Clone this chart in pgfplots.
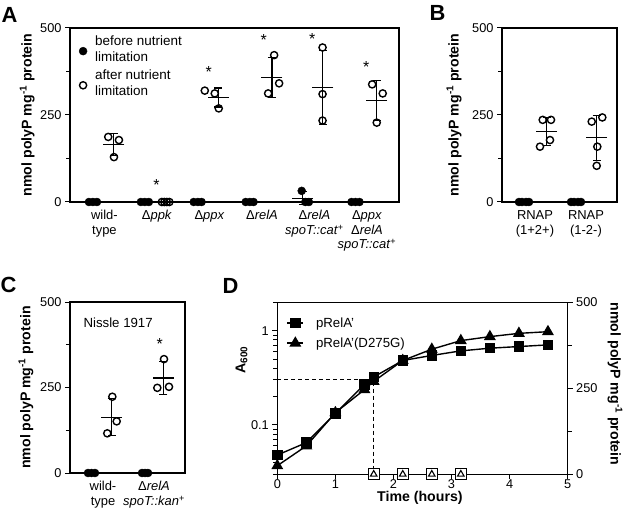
\documentclass[border=0pt]{standalone}
\usepackage{fontspec}
\setmainfont{Liberation Sans}
\usepackage{pgfplots}
\pgfplotsset{compat=1.18}

\tikzset{sig/.style={font=\fontsize{16}{16}\selectfont, anchor=center, inner sep=0pt}}
\pgfplotsset{
  base/.style={
    scale only axis, clip=false, anchor=south west,
    /pgf/number format/assume math mode=true,
    tick label style={font=\fontsize{12.8}{14}\selectfont},
    label style={font=\bfseries\fontsize{14.2}{16}\selectfont},
    axis line style={line width=1.1bp},
    every tick/.style={line width=1bp, black},
    major tick length=5bp, minor tick length=4bp,
    tick align=outside,
    ytick pos=left, xtick pos=bottom,
  },
  cat/.style={
    ymin=0, ymax=500, ytick={0,250,500}, minor ytick={125,375},
    xtick style={draw=none},
    x tick label style={align=center, font=\fontsize{13}{14.8}\selectfont},
  },
  filled/.style={only marks, mark=*, mark size=4bp, black},
  open/.style={only marks, mark=o, mark size=3.6bp, black, mark options={line width=1.4bp}},
  meanbar/.style={only marks, mark=-, mark size=10.5bp, black, mark options={line width=1.2bp},
     error bars/y dir=both, error bars/y explicit, error bars/error mark=-,
     error bars/error bar style={line width=1.2bp},
     error bars/error mark options={rotate=90, mark size=4bp, line width=1.2bp}},
}

\begin{document}
\begin{tikzpicture}
\path[use as bounding box] (0bp,0bp) rectangle (625bp,515bp);

% ---------------- Panel A ----------------
\begin{axis}[base, cat, at={(70bp,313bp)}, width=329bp, height=174bp,
  xmin=0.344, xmax=6.61,
  xtick={1,2,3,4,5,6},
  xticklabels={{wild-\\type},{Δ\textit{ppk}},{Δ\textit{ppx}},{Δ\textit{relA}},{Δ\textit{relA}\\\textit{spoT::cat}\textsuperscript{+}},{Δ\textit{ppx}\\Δ\textit{relA}\\\textit{spoT::cat}\textsuperscript{+}}},
  ylabel={nmol polyP mg\textsuperscript{-1} protein},
  ylabel style={at={(axis description cs:-0.13,0.5)}, anchor=center},
  legend style={at={(axis description cs:0.024,0.975)}, anchor=north west, draw=none, fill=none,
    font=\fontsize{13.5}{16}\selectfont, cells={align=left, anchor=west}, row sep=3bp, column sep=6bp, inner sep=1bp},
  legend image post style={yshift=-2bp},
  legend cell align=left]
\addlegendimage{filled}
\addlegendentry{before nutrient\\limitation}
\addlegendimage{open}
\addlegendentry{after nutrient\\limitation}
\addplot[filled, forget plot] coordinates {(0.705,0)(0.781,0)(0.857,0) (1.694,0)(1.770,0)(1.846,0) (2.70,0)(2.78,0)(2.85,0) (3.69,0)(3.77,0)(3.84,0) (4.757,32)(4.825,0)(4.894,0) (5.705,0)(5.781,0)(5.857,0)};
\addplot[open, forget plot] coordinates {(1.072,187)(1.276,178)(1.181,129) (2.093,0)(2.141,0)(2.188,0)(2.236,0) (2.911,320)(3.101,312)(3.177,269) (4.118,312)(4.327,341)(4.232,422) (5.154,444)(5.154,310)(5.154,234) (6.099,338)(6.300,312)(6.186,228)};
\addplot[forget plot, meanbar] coordinates {(1.18,164.7) +- (0,31.2) (3.17,300.3) +- (0,27.4) (4.19,358.3) +- (0,57) (5.16,329.3) +- (0,106.3) (6.186,292.7) +- (0,57.5) (4.774,10.7) +- (0,18.5)};
\node[sig] at (axis cs:1.992,50) {*};
\node[sig] at (axis cs:2.987,374) {*};
\node[sig] at (axis cs:4.032,466) {*};
\node[sig] at (axis cs:4.958,469) {*};
\node[sig] at (axis cs:5.985,388) {*};
\end{axis}

% ---------------- Panel B ----------------
\begin{axis}[base, cat, at={(502bp,313bp)}, width=115bp, height=174bp,
  xmin=0.353, xmax=2.608, xtick={1,2},
  xticklabels={{RNAP\\(1+2+)},{RNAP\\(1-2-)}},
  ylabel={nmol polyP mg\textsuperscript{-1} protein},
  ylabel style={at={(axis description cs:-0.417,0.5)}, anchor=center}]
\addplot[filled] coordinates {(0.686,0)(0.745,0)(0.824,0)(0.882,0)(1.706,0)(1.765,0)(1.843,0)(1.902,0)};
\addplot[open] coordinates {(1.151,236)(1.314,236)(1.098,159)(1.294,178) (2.112,231)(2.320,243)(2.222,159)(2.210,104)};
\addplot[meanbar] coordinates {(1.229,202.25) +- (0,39.7) (2.210,184.25) +- (0,65.1)};
\end{axis}

% ---------------- Panel C ----------------
\begin{axis}[base, cat, at={(70bp,42bp)}, width=115bp, height=171bp,
  xmin=0.353, xmax=2.608, xtick={1,2},
  xticklabels={{wild-\\type},{Δ\textit{relA}\\\textit{spoT::kan}\textsuperscript{+}}},
  ylabel={nmol polyP mg\textsuperscript{-1} protein},
  ylabel style={at={(axis description cs:-0.383,0.5)}, anchor=center}]
\addplot[filled] coordinates {(0.706,0)(0.775,0)(0.843,0)(1.765,0)(1.824,0)(1.882,0)};
\addplot[open] coordinates {(1.183,223)(1.268,151)(1.084,116) (2.196,333)(2.065,249)(2.294,252)};
\addplot[meanbar] coordinates {(1.170,163.3) +- (0,54.6) (2.183,278) +- (0,47.7)};
\node[sig] at (axis cs:2.11,378) {*};
\node[anchor=west, font=\fontsize{13.3}{15}\selectfont] at (axis cs:0.549,438) {Nissle 1917};
\end{axis}

% ---------------- Panel D ----------------
\begin{axis}[base, at={(277.3bp,40.7bp)}, width=290.4bp, height=172bp,
  xmin=0, xmax=5, ymode=log, ymin=0.03, ymax=2,
  xtick={0,1,2,3,4,5},
  x tick label style={yshift=3bp},
  ytick={0.1,1}, yticklabels={0.1,1},
  minor ytick={0.03,0.04,0.05,0.06,0.07,0.08,0.09,0.2,0.3,0.4,0.5,0.6,0.7,0.8,0.9,2},
  ylabel={A\textsubscript{600}},
  ylabel style={at={(axis description cs:-0.123,0.665)}, anchor=center},
  xlabel={Time (hours)},
  xlabel style={at={(axis description cs:0.491,-0.138)}, anchor=center},
  legend style={at={(axis description cs:0.028,0.93)}, anchor=north west, draw=none, fill=none,
    font=\fontsize{13.3}{15}\selectfont, row sep=5bp, column sep=10bp, inner sep=1bp},
  legend cell align=left,
  legend image code/.code={\draw[mark repeat=2, mark phase=2, #1] plot coordinates {(0bp,0bp)(8bp,0bp)(16bp,0bp)};}]
\addplot[black, line width=1.4bp, mark=square*, mark size=4.5bp] coordinates {(0,0.048)(0.5,0.065)(1,0.133)(1.5,0.268)(1.66,0.323)(2.16,0.483)(2.66,0.546)(3.16,0.611)(3.66,0.652)(4.16,0.679)(4.66,0.707)};
\addlegendentry{pRelA'}
\addplot[black, line width=1.4bp, mark=triangle*, mark size=5.5bp] coordinates {(0,0.037)(0.5,0.060)(1,0.135)(1.5,0.237)(1.66,0.290)(2.16,0.483)(2.66,0.636)(3.16,0.785)(3.66,0.865)(4.16,0.937)(4.66,0.976)};
\addlegendentry{pRelA'(D275G)}
\addplot[black, line width=1bp, dash pattern=on 4bp off 3bp, forget plot] coordinates {(0,0.3)(1.66,0.3)(1.66,0.03)};
\end{axis}
\begin{axis}[base, at={(277.3bp,40.7bp)}, width=290.4bp, height=172bp,
  xmin=0, xmax=5, ymin=0, ymax=500,
  axis x line=none, axis y line*=right, ytick pos=right,
  ytick={0,250,500}, minor ytick={125,375},
  ylabel={nmol polyP mg\textsuperscript{-1} protein},
  ylabel style={at={(axis description cs:1.163,0.525)}, anchor=center, rotate=180}]
\addplot[only marks, mark=square*, mark size=5.5bp, mark options={fill=white, draw=black, line width=1.3bp}] coordinates {(1.66,0)(2.16,0)(2.66,0)(3.16,0)};
\addplot[only marks, mark=triangle, mark size=3.8bp, mark options={line width=1.1bp}] coordinates {(1.66,0)(2.16,0)(2.66,0)(3.16,0)};
\end{axis}

% panel letters
\node[font=\bfseries\fontsize{22}{22}\selectfont] at (9.5bp,500.5bp) {A};
\node[font=\bfseries\fontsize{22}{22}\selectfont] at (437.5bp,502.5bp) {B};
\node[font=\bfseries\fontsize{22}{22}\selectfont] at (8.5bp,230bp) {C};
\node[font=\bfseries\fontsize{22}{22}\selectfont] at (230.5bp,229.5bp) {D};
\end{tikzpicture}
\end{document}
